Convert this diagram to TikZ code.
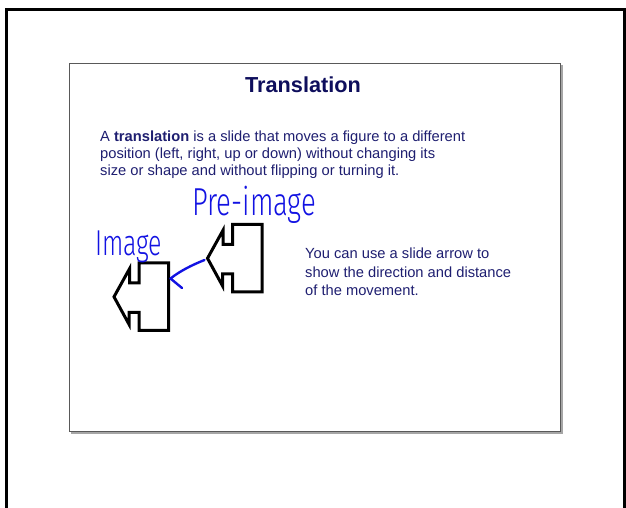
\documentclass[tikz,border=0pt]{standalone}
\usepackage{fontspec}
\setmainfont{Liberation Sans}
\newfontfamily\handfont{Fira Sans Light}
\definecolor{titlenavy}{RGB}{14,14,92}
\definecolor{bodynavy}{RGB}{30,30,112}
\definecolor{inkblue}{RGB}{18,18,226}
\tikzset{
  outerframe/.style={draw=black, line width=2.2pt},
  innerframe/.style={draw=black!65, line width=1pt},
  innershadow/.style={draw=black!35, line width=1.3pt},
  figline/.style={draw=black, line width=3pt, line join=miter, miter limit=20},
  bodyline/.style={anchor=base west, inner sep=0pt, text=bodynavy, font=\fontsize{14.7}{17}\selectfont},
  hand/.style={anchor=base west, inner sep=0pt, text=inkblue},
  inkarrow/.style={draw=inkblue, line width=2.4pt, line cap=round, line join=round}
}
\begin{document}
\begin{tikzpicture}[x=1pt, y=-1pt]
\useasboundingbox (0,0) rectangle (626,508);
% outer frame (open at bottom)
\draw[outerframe] (6.5,508) -- (6.5,9.5) -- (624.5,9.5) -- (624.5,508);
% inner slide box with shadow
\draw[innershadow] (71,432.9) -- (561.9,432.9) -- (561.9,65);
\draw[innerframe] (69.5,63.5) rectangle (560.5,431.5);
% title
\node[anchor=base, inner sep=0pt, text=titlenavy, font=\fontsize{21.7}{26}\selectfont\bfseries] (title) at (303,92.7) {Translation};
% definition paragraph
\node[bodyline] (d1) at (100,141.3) {A \textbf{translation} is a slide that moves a figure to a different};
\node[bodyline] (d2) at (100,158.3) {position (left, right, up or down) without changing its};
\node[bodyline] (d3) at (100,175.3) {size or shape and without flipping or turning it.};
% side paragraph
\node[bodyline] (s1) at (305,258.3) {You can use a slide arrow to};
\node[bodyline] (s2) at (305,277) {show the direction and distance};
\node[bodyline] (s3) at (305,295.7) {of the movement.};
% pre-image figure
\draw[figline, shift={(207.5,258.3)}] (0,0) -- (15.5,-28) -- (15.5,-14) -- (25,-14) -- (25,-34) -- (54.5,-34) -- (54.5,33.5) -- (25,33.5) -- (25,15.5) -- (15,15.5) -- (15,27.5) -- cycle;
% image figure
\draw[figline, shift={(114,296.8)}] (0,0) -- (15.5,-28) -- (15.5,-14) -- (25,-14) -- (25,-34) -- (54.5,-34) -- (54.5,33.5) -- (25,33.5) -- (25,15.5) -- (15,15.5) -- (15,27.5) -- cycle;
% handwritten labels
\node[hand, font=\handfont\fontsize{39}{44}\selectfont] (pre) at (192,215) {\resizebox{124pt}{\height}{Pre-image}};
\node[hand, font=\handfont\fontsize{36}{40}\selectfont] (img) at (95,255) {\resizebox{67pt}{\height}{Image}};
% slide arrow
\coordinate (arrstart) at (204.5,260);
\coordinate (arrtip) at (170.5,278.5);
\coordinate (arrbarb) at (182,288);
\draw[inkarrow] (arrstart) .. controls (192,265) and (180,271) .. (arrtip) -- (arrbarb);
\end{tikzpicture}
\end{document}
